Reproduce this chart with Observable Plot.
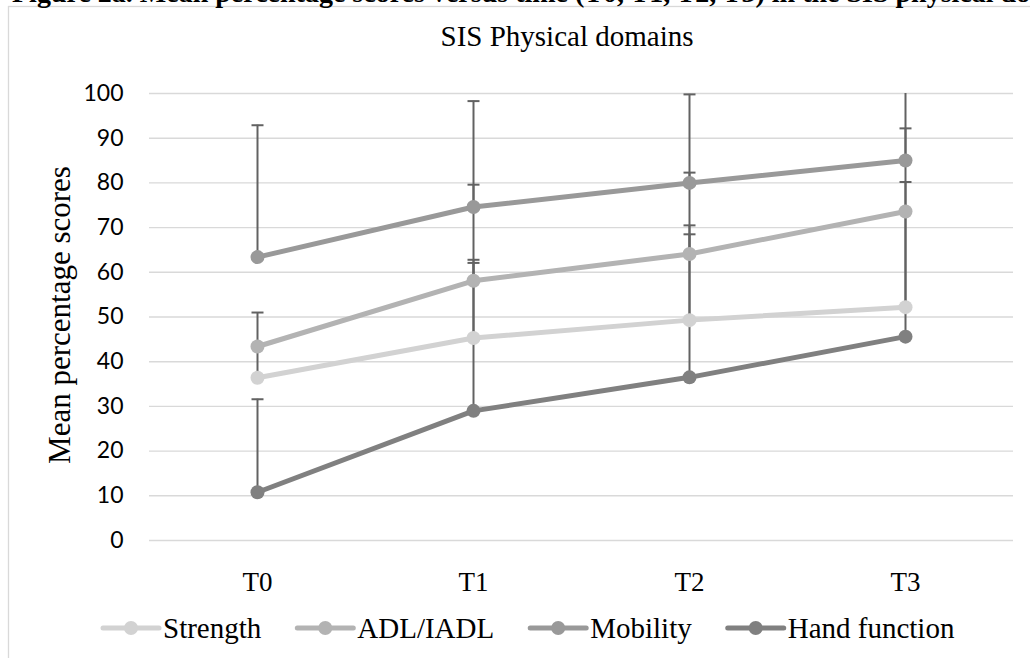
<!DOCTYPE html>
<html>
<head>
<meta charset="utf-8">
<script src="https://cdn.jsdelivr.net/npm/d3@7"></script>
<script src="https://cdn.jsdelivr.net/npm/@observablehq/plot@0.6"></script>
<style>
  html, body { margin: 0; padding: 0; background: #fff; }
  #page { position: relative; width: 1030px; height: 658px; overflow: hidden; }
  #page > svg { position: absolute; left: 0; top: 0; }
</style>
</head>
<body>
<div id="page"></div>
<script>
// Measurement occasions
const times = ["T0", "T1", "T2", "T3"];
// SIS physical domains
const seriesNames = ["Strength", "ADL/IADL", "Mobility", "Hand function"];
// Mean percentage scores per domain
const strength = [36.4, 45.3, 49.3, 52.2];
const adl = [43.4, 58.1, 64.1, 73.6];
const mobility = [63.4, 74.6, 80.0, 85.0];
const hand = [10.8, 29.0, 36.5, 45.6];
// Upper error bar lengths per domain
const strengthErr = [7.0, 17.5, 21.2, 21.4];
const adlErr = [7.6, 4.0, 4.4, 6.6];
const mobilityErr = [29.5, 23.7, 19.8, 7.2];
const handErr = [20.8, 50.6, 45.8, 58.0];
// Axis ticks
const yTicks = [0, 10, 20, 30, 40, 50, 60, 70, 80, 90, 100];
const seriesColors = ["#d2d2d2", "#b3b3b3", "#999999", "#808080"];

const means = [strength, adl, mobility, hand];
const errs = [strengthErr, adlErr, mobilityErr, handErr];
const rows = [];
seriesNames.forEach((s, i) => {
  times.forEach((t, j) => {
    rows.push({series: s, time: t, value: means[i][j], err: errs[i][j]});
  });
});

// horizontal cap for the error bars
const capSymbol = {
  draw(context, size) {
    const w = Math.sqrt(size / Math.PI);
    context.moveTo(-w, 0);
    context.lineTo(w, 0);
  }
};

const serif = "'Liberation Serif', 'Times New Roman', serif";
const errColor = "#626262";

const chart = Plot.plot({
  width: 1030,
  height: 610,
  marginTop: 93,
  marginBottom: 70,
  marginLeft: 149,
  marginRight: 17,
  style: {background: "transparent", overflow: "visible"},
  x: {type: "point", domain: times, padding: 0.5},
  y: {domain: [0, 100]},
  color: {domain: seriesNames, range: seriesColors},
  marks: [
    Plot.gridY(yTicks, {stroke: "#d9d9d9", strokeOpacity: 1, strokeWidth: 1.4}),
    Plot.axisY(yTicks, {tickSize: 0, tickPadding: 26, fontSize: 23, fontFamily: "Lato", fill: "#000", label: null}),
    Plot.axisX({tickSize: 0, tickPadding: 31, fontSize: 27, fontFamily: serif, fill: "#000", label: null}),
    Plot.ruleX(rows, {x: "time", y1: "value", y2: d => d.value + d.err, stroke: errColor, strokeWidth: 2, clip: true}),
    Plot.dot(rows, {x: "time", y: d => d.value + d.err, symbol: capSymbol, r: 6, stroke: errColor, strokeWidth: 2, fill: "none", clip: true}),
    Plot.line(rows, {x: "time", y: "value", z: "series", stroke: "series", strokeWidth: 5}),
    Plot.dot(rows, {x: "time", y: "value", fill: "series", r: 7}),
    Plot.text(["Mean percentage scores"], {frameAnchor: "left", textAnchor: "middle", lineAnchor: "middle", rotate: -90, dx: -89, dy: -2, fontSize: 31, fontFamily: serif, fill: "#000"})
  ]
});

const page = document.getElementById("page");

// chart frame (behind the plot)
const back = d3.create("svg").attr("width", 1030).attr("height", 658);
back.append("rect").attr("x", 8.5).attr("y", 6.5).attr("width", 1100).attr("height", 700)
  .attr("fill", "#fff").attr("stroke", "#d9d9d9").attr("stroke-width", 1.3);
page.appendChild(back.node());
page.appendChild(chart);

const front = d3.create("svg").attr("width", 1030).attr("height", 658).style("pointer-events", "none");
page.appendChild(front.node());

// figure caption running off the top edge
front.append("text")
  .attr("x", 12).attr("y", 2)
  .attr("font-family", serif).attr("font-weight", "bold").attr("font-size", 28)
  .text("Figure 2a. Mean percentage scores versus time (T0, T1, T2, T3) in the SIS physical domains");

front.append("text")
  .attr("x", 567).attr("y", 46).attr("text-anchor", "middle")
  .attr("font-family", serif).attr("font-size", 29)
  .text("SIS Physical domains");

// legend below the plot
const legend = front.append("g").attr("font-family", serif).attr("font-size", 29);
let lx = 103;
const ly = 628;
seriesNames.forEach((name, i) => {
  legend.append("line").attr("x1", lx).attr("x2", lx + 56).attr("y1", ly).attr("y2", ly)
    .attr("stroke", seriesColors[i]).attr("stroke-width", 5).attr("stroke-linecap", "round");
  legend.append("circle").attr("cx", lx + 28).attr("cy", ly).attr("r", 7).attr("fill", seriesColors[i]);
  const t = legend.append("text").attr("x", lx + 60).attr("y", ly).attr("dy", "0.35em").text(name);
  lx += 60 + t.node().getComputedTextLength() + 36;
});
</script>
</body>
</html>
